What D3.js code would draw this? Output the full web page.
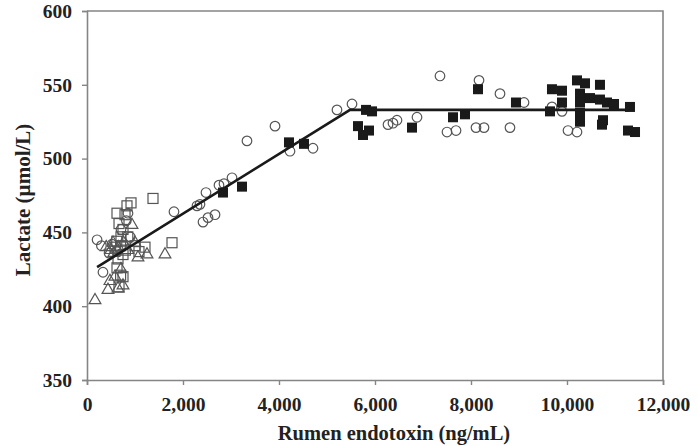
<!DOCTYPE html>
<html>
<head>
<meta charset="utf-8">
<script src="https://cdn.jsdelivr.net/npm/d3@7"></script>
<style>
  body { margin: 0; background: #fff; }
  svg text { font-family: "Liberation Serif", "Times New Roman", serif; font-weight: bold; fill: #222; }
</style>
</head>
<body>
<div id="chart"></div>
<script>
// values: [endotoxin ng/mL, lactate umol/L]
var openCircles = [
  [210,445],[333,423],[300,441],[520,442],[708,452],[820,458],[900,447],[625,437],[854,463],[460,436],
  [1812,464],[2292,468],[2354,469],[2417,457],[2521,460],[2667,462],[2479,477],[2750,482],[2854,483],
  [3021,487],[3333,512],[3917,522],[4229,505],[4708,507],[5208,533],[5521,537],
  [6271,523],[6375,524],[6458,526],[6875,528],[7354,556],[7500,518],[7688,519],[8104,521],[8271,521],
  [8167,553],[8604,544],[8812,521],[9104,538],[9687,535],[9896,532],[10021,519],[10208,518]
];
var openSquares = [
  [833,468],[917,470],[1375,473],[625,463],[667,456],[750,452],[708,447],[1771,443],[1208,440],[1000,441],
  [583,440],[1083,437],[646,432],[750,435],[625,426],[700,421],[750,420],[667,413],[850,447],[792,462],
  [700,441],[800,438],[620,444]
];
var openTriangles = [
  [167,404],[437,411],[646,412],[750,414],[479,417],[542,443],[1625,435],[1062,433],[1250,435],[937,455],
  [583,420],[708,425],[500,438],[400,440],[850,438],[1000,443],[650,440],[760,443],[560,436]
];
var filledSquares = [
  [2833,477],[3229,481],[4208,511],[4521,510],[5646,522],[5750,516],[5813,533],[5875,519],[5938,532],
  [6771,521],[7625,528],[7875,530],[8146,547],[8937,538],[9646,532],[9687,547],[9896,546],[9896,538],
  [10208,553],[10271,544],[10271,538],[10271,531],[10271,525],[10375,551],[10479,541],[10687,550],
  [10687,540],[10833,538],[10979,537],[10750,526],[10729,523],[11312,535],[11271,519],[11417,518]
];
// broken-line fit
var fitLine = [[210,426.5],[5480,533],[11300,533]];

var xTicks = [0, 2000, 4000, 6000, 8000, 10000, 12000];
var yTicks = [350, 400, 450, 500, 550, 600];

var W = 698, H = 446;
var margin = {top: 11, right: 35, bottom: 66, left: 87};
var width = W - margin.left - margin.right,
    height = H - margin.top - margin.bottom;

var svg = d3.select("#chart").append("svg")
  .attr("width", W).attr("height", H);

var g = svg.append("g")
  .attr("transform", "translate(" + margin.left + "," + margin.top + ")");

var x = d3.scaleLinear().domain([0, 12000]).range([0, width]);
var y = d3.scaleLinear().domain([350, 600]).range([height, 0]);

var axisColor = "#858585";

// box top and right
g.append("path")
  .attr("d", "M0,0H" + width + "V" + height)
  .attr("fill", "none").attr("stroke", axisColor).attr("stroke-width", 1.6);

var xAxis = g.append("g")
  .attr("transform", "translate(0," + height + ")")
  .call(d3.axisBottom(x).tickValues(xTicks).tickSize(5).tickPadding(12)
    .tickFormat(d3.format(",")));
var yAxis = g.append("g")
  .call(d3.axisLeft(y).tickValues(yTicks).tickSize(5).tickPadding(10));

[xAxis, yAxis].forEach(function(a) {
  a.select(".domain").attr("stroke", axisColor).attr("stroke-width", 1.6);
  a.selectAll(".tick line").attr("stroke", axisColor).attr("stroke-width", 1.4);
  a.selectAll("text").attr("font-size", 19.5).attr("fill", "#222")
    .style("font-family", '"Liberation Serif", serif');
});

// markers
var stroke = "#555";

g.selectAll(".circ").data(openCircles).enter().append("circle")
  .attr("cx", function(d) { return x(d[0]); })
  .attr("cy", function(d) { return y(d[1]); })
  .attr("r", 4.8)
  .attr("fill", "none").attr("stroke", stroke).attr("stroke-width", 1.2);

g.selectAll(".osq").data(openSquares).enter().append("rect")
  .attr("x", function(d) { return x(d[0]) - 5; })
  .attr("y", function(d) { return y(d[1]) - 5; })
  .attr("width", 10).attr("height", 10)
  .attr("fill", "none").attr("stroke", stroke).attr("stroke-width", 1.2);

var tri = d3.symbol().type(d3.symbolTriangle).size(60);
g.selectAll(".tri").data(openTriangles).enter().append("path")
  .attr("d", tri)
  .attr("transform", function(d) { return "translate(" + x(d[0]) + "," + y(d[1]) + ")"; })
  .attr("fill", "none").attr("stroke", stroke).attr("stroke-width", 1.2);

g.selectAll(".fsq").data(filledSquares).enter().append("rect")
  .attr("x", function(d) { return x(d[0]) - 5; })
  .attr("y", function(d) { return y(d[1]) - 5; })
  .attr("width", 10).attr("height", 10)
  .attr("fill", "#1a1a1a");

// fit line
var line = d3.line()
  .x(function(d) { return x(d[0]); })
  .y(function(d) { return y(d[1]); });

g.append("path")
  .datum(fitLine)
  .attr("d", line)
  .attr("fill", "none").attr("stroke", "#1a1a1a").attr("stroke-width", 2.6);

// axis titles
svg.append("text")
  .attr("x", 394).attr("y", 440)
  .attr("text-anchor", "middle")
  .attr("font-size", 20.5)
  .text("Rumen endotoxin (ng/mL)");

svg.append("text")
  .attr("transform", "translate(30,200) rotate(-90)")
  .attr("text-anchor", "middle")
  .attr("font-size", 21)
  .text("Lactate (µmol/L)");
</script>
</body>
</html>
